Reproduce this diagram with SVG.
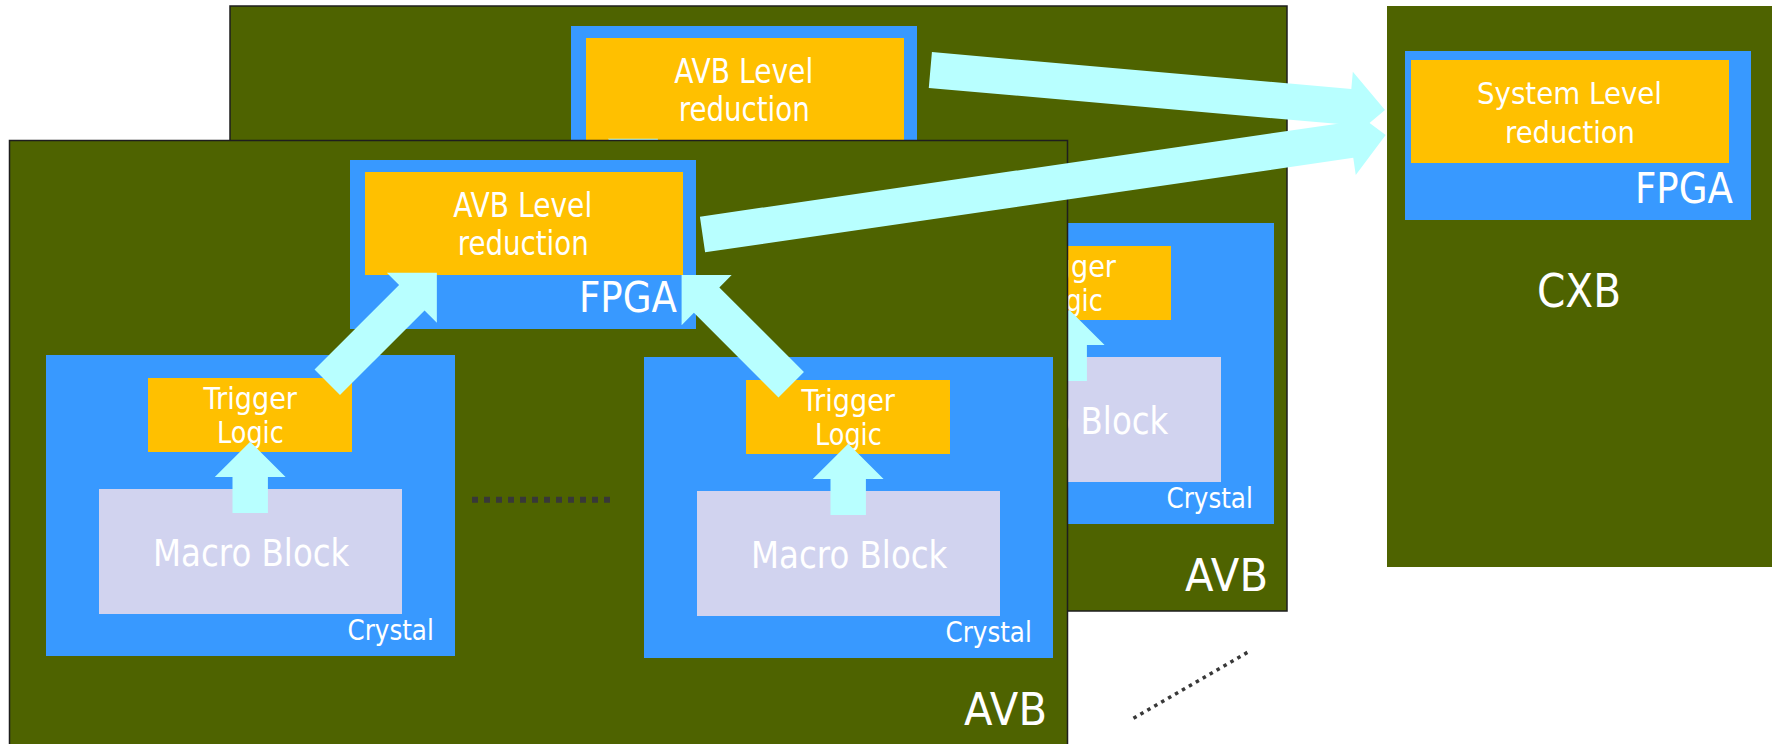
<svg xmlns="http://www.w3.org/2000/svg" width="1775" height="744" viewBox="0 0 1775 744">
<style>
.board{fill:#4e6300;stroke:#1e1e1e;stroke-width:1.5}
.cxb{fill:#4e6300}
.blue{fill:#3899ff}
.orange{fill:#ffc000}
.macro{fill:#d1d3ef}
.arrow{fill:#b8ffff}
.t{fill:#ffffff;font-family:"DejaVu Sans","Verdana",sans-serif}
.dots{stroke:#383838;fill:none}
</style>
<defs>
<path id="arrowSmall" d="M0,-17.7 H35.9 V-35.4 L71.3,0 L35.9,35.4 V17.7 H0 Z"/>
<path id="arrowMid" d="M0,-18 H119.6 V-35.4 L155,0 L119.6,35.4 V18 H0 Z"/>
</defs>
<rect width="1775" height="744" fill="#ffffff"/>

<!-- Back AVB board -->
<g id="avb-back">
  <rect class="board" x="230" y="6" width="1057" height="605"/>
  <g id="avb-back-fpga" transform="translate(221,-134)">
    <rect class="blue" x="350" y="160" width="346" height="169"/>
    <rect class="orange" x="365" y="172" width="318" height="103"/>
    <text class="t" x="453.2" y="217" font-size="34" textLength="139" lengthAdjust="spacingAndGlyphs">AVB Level</text>
    <text class="t" x="457.7" y="255" font-size="34" textLength="131" lengthAdjust="spacingAndGlyphs">reduction</text>
    <text class="t" x="579" y="312" font-size="43" textLength="98" lengthAdjust="spacingAndGlyphs">FPGA</text>
  </g>
  <g id="avb-back-crystal" transform="translate(819,-132)">
    <rect class="blue" x="46" y="355" width="409" height="301"/>
    <rect class="orange" x="148" y="378" width="204" height="74"/>
    <text class="t" x="203.4" y="409" font-size="29.5" textLength="93.6" lengthAdjust="spacingAndGlyphs">Trigger</text>
    <text class="t" x="217" y="443" font-size="29.5" textLength="66.7" lengthAdjust="spacingAndGlyphs">Logic</text>
    <rect class="macro" x="99" y="489" width="303" height="125"/>
    <text class="t" x="153" y="566" font-size="37" textLength="196.4" lengthAdjust="spacingAndGlyphs">Macro Block</text>
    <text class="t" x="347.5" y="640" font-size="29" textLength="86.3" lengthAdjust="spacingAndGlyphs">Crystal</text>
  </g>
  <text id="avb-back-label" class="t" x="1185" y="591" font-size="45" textLength="83" lengthAdjust="spacingAndGlyphs">AVB</text>
</g>

<!-- Back board connectors -->
<g id="connectors-back">
  <use href="#arrowSmall" class="arrow" transform="translate(1069.2,381) rotate(-90)"/>
  <use href="#arrowMid" class="arrow" transform="translate(548.25,248.25) rotate(-45)"/>
  <use href="#arrowMid" class="arrow" transform="translate(1012.2,250.7) rotate(-135)"/>
</g>

<!-- Front AVB board -->
<g id="avb-front">
  <rect class="board" x="9.5" y="140.5" width="1058" height="620"/>
  <g id="avb-front-fpga">
    <rect class="blue" x="350" y="160" width="346" height="169"/>
    <rect class="orange" x="365" y="172" width="318" height="103"/>
    <text class="t" x="453.2" y="217" font-size="34" textLength="139" lengthAdjust="spacingAndGlyphs">AVB Level</text>
    <text class="t" x="457.7" y="255" font-size="34" textLength="131" lengthAdjust="spacingAndGlyphs">reduction</text>
    <text class="t" x="579" y="312" font-size="43" textLength="98" lengthAdjust="spacingAndGlyphs">FPGA</text>
  </g>
  <g id="avb-front-crystal-1">
    <rect class="blue" x="46" y="355" width="409" height="301"/>
    <rect class="orange" x="148" y="378" width="204" height="74"/>
    <text class="t" x="203.4" y="409" font-size="29.5" textLength="93.6" lengthAdjust="spacingAndGlyphs">Trigger</text>
    <text class="t" x="217" y="443" font-size="29.5" textLength="66.7" lengthAdjust="spacingAndGlyphs">Logic</text>
    <rect class="macro" x="99" y="489" width="303" height="125"/>
    <text class="t" x="153" y="566" font-size="37" textLength="196.4" lengthAdjust="spacingAndGlyphs">Macro Block</text>
    <text class="t" x="347.5" y="640" font-size="29" textLength="86.3" lengthAdjust="spacingAndGlyphs">Crystal</text>
  </g>
  <g id="avb-front-crystal-2" transform="translate(598,2)">
    <rect class="blue" x="46" y="355" width="409" height="301"/>
    <rect class="orange" x="148" y="378" width="204" height="74"/>
    <text class="t" x="203.4" y="409" font-size="29.5" textLength="93.6" lengthAdjust="spacingAndGlyphs">Trigger</text>
    <text class="t" x="217" y="443" font-size="29.5" textLength="66.7" lengthAdjust="spacingAndGlyphs">Logic</text>
    <rect class="macro" x="99" y="489" width="303" height="125"/>
    <text class="t" x="153" y="566" font-size="37" textLength="196.4" lengthAdjust="spacingAndGlyphs">Macro Block</text>
    <text class="t" x="347.5" y="640" font-size="29" textLength="86.3" lengthAdjust="spacingAndGlyphs">Crystal</text>
  </g>
  <line id="avb-front-ellipsis" class="dots" x1="472" y1="499.7" x2="610" y2="499.7" stroke-width="6" stroke-dasharray="6 6"/>
  <text id="avb-front-label" class="t" x="964" y="725" font-size="45" textLength="83" lengthAdjust="spacingAndGlyphs">AVB</text>
</g>

<!-- Front board connectors -->
<g id="connectors-front">
  <use href="#arrowSmall" class="arrow" transform="translate(250.2,513) rotate(-90)"/>
  <use href="#arrowSmall" class="arrow" transform="translate(848.2,515) rotate(-90)"/>
  <use href="#arrowMid" class="arrow" transform="translate(327.25,382.25) rotate(-45)"/>
  <use href="#arrowMid" class="arrow" transform="translate(791.2,384.7) rotate(-135)"/>
</g>

<!-- CXB board -->
<g id="cxb">
  <rect class="cxb" x="1387" y="6" width="385" height="561"/>
  <g id="cxb-fpga">
    <rect class="blue" x="1405" y="51" width="346" height="169"/>
    <rect class="orange" x="1411" y="60" width="318" height="103"/>
    <text class="t" x="1477" y="104" font-size="31" textLength="185" lengthAdjust="spacingAndGlyphs">System Level</text>
    <text class="t" x="1505" y="143" font-size="31" textLength="130" lengthAdjust="spacingAndGlyphs">reduction</text>
    <text class="t" x="1635" y="203" font-size="42" textLength="98" lengthAdjust="spacingAndGlyphs">FPGA</text>
  </g>
  <text id="cxb-label" class="t" x="1537" y="307" font-size="47" textLength="84" lengthAdjust="spacingAndGlyphs">CXB</text>
</g>

<!-- Connectors to CXB -->
<g id="connectors-cxb">
  <path class="arrow" d="M0,-18 H421 V-35.4 L456.4,0 L421,35.4 V18 H0 Z" transform="translate(930.35,70) rotate(5.03)"/>
  <path class="arrow" d="M0,-18 H655 V-35.4 L690.4,0 L655,35.4 V18 H0 Z" transform="translate(702.5,234.5) rotate(-8.29)"/>
</g>

<line id="boards-ellipsis" class="dots" x1="1133.5" y1="718.2" x2="1247.5" y2="652.3" stroke-width="3.5" stroke-dasharray="3.5 4.5"/>
</svg>
